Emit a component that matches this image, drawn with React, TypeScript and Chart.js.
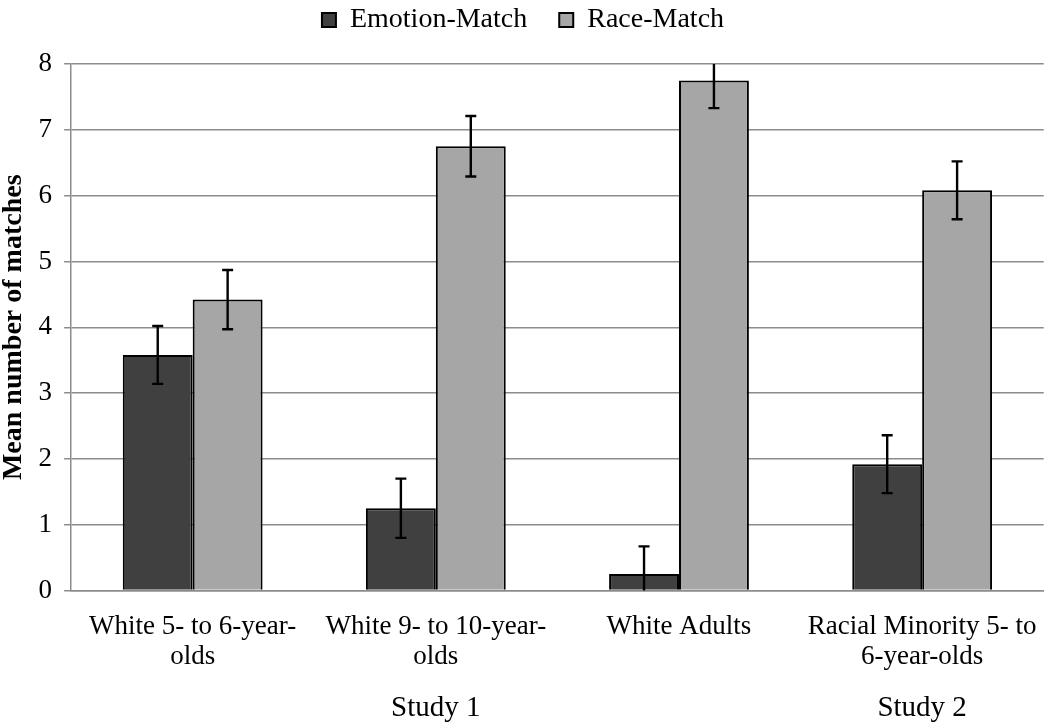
import React, { useEffect, useRef } from "react";
import { Chart, registerables } from "chart.js";

Chart.register(...registerables);

const categories: string[][] = [
  ["White 5- to 6-year-", "olds"],
  ["White 9- to 10-year-", "olds"],
  ["White Adults"],
  ["Racial Minority 5- to", "6-year-olds"],
];
const emotionMatch = [3.58, 1.25, 0.25, 1.92];
const emotionErr = [0.44, 0.45, 0.42, 0.44];
const raceMatch = [4.42, 6.75, 7.75, 6.08];
const raceErr = [0.45, 0.46, 0.42, 0.44];
const studyLabels = ["Study 1", "Study 2"];
const studySpans = [[0, 2], [3, 3]];

const FONT = "'Liberation Serif', 'Times New Roman', serif";

const errorBarPlugin = {
  id: "errorBars",
  afterDatasetsDraw(chart: any) {
    const { ctx, chartArea, scales } = chart;
    const y = scales.y;
    ctx.save();
    ctx.beginPath();
    ctx.rect(chartArea.left, chartArea.top, chartArea.right - chartArea.left, chartArea.bottom - chartArea.top);
    ctx.clip();
    ctx.strokeStyle = "#000";
    ctx.lineWidth = 2.4;
    chart.data.datasets.forEach((ds: any, di: number) => {
      const meta = chart.getDatasetMeta(di);
      const errs: number[] = ds.errors;
      meta.data.forEach((bar: any, i: number) => {
        const v = ds.data[i];
        const top = y.getPixelForValue(v + errs[i]);
        const bot = y.getPixelForValue(v - errs[i]);
        const x = bar.x;
        const cap = 5.5;
        ctx.beginPath();
        ctx.moveTo(x, top);
        ctx.lineTo(x, bot);
        ctx.moveTo(x - cap, top);
        ctx.lineTo(x + cap, top);
        ctx.moveTo(x - cap, bot);
        ctx.lineTo(x + cap, bot);
        ctx.stroke();
      });
    });
    ctx.restore();
  },
};

const legendSpacing = {
  id: "legendSpacing",
  beforeInit(chart: any) {
    const legend = chart.legend;
    if (!legend) return;
    const orig = legend.fit;
    legend.fit = function () {
      orig.bind(legend)();
      this.height += 20;
    };
  },
};

const studyPlugin = {
  id: "studyLabels",
  afterDraw(chart: any) {
    const { ctx, scales } = chart;
    const x = scales.x;
    const half = (x.getPixelForValue(1) - x.getPixelForValue(0)) / 2;
    ctx.save();
    ctx.fillStyle = "#000";
    ctx.font = `29px ${FONT}`;
    ctx.textAlign = "center";
    ctx.textBaseline = "middle";
    studyLabels.forEach((lab, i) => {
      const [a, b] = studySpans[i];
      const cx = (x.getPixelForValue(a) - half + x.getPixelForValue(b) + half) / 2;
      ctx.fillText(lab, cx, 708);
    });
    ctx.restore();
  },
};

export default function App() {
  const ref = useRef<HTMLCanvasElement>(null);
  useEffect(() => {
    document.body.style.margin = "0";
    const chart = new Chart(ref.current!, {
      type: "bar",
      data: {
        labels: categories as any,
        datasets: [
          {
            label: "Emotion-Match",
            data: emotionMatch,
            errors: emotionErr,
            backgroundColor: "#404040",
            borderColor: "#000",
            borderWidth: 2,
          } as any,
          {
            label: "Race-Match",
            data: raceMatch,
            errors: raceErr,
            backgroundColor: "#a6a6a6",
            borderColor: "#000",
            borderWidth: 2,
          } as any,
        ],
      },
      options: {
        animation: false,
        responsive: false,
        maintainAspectRatio: false,
        layout: { padding: { left: 0, right: 4, top: -26, bottom: 38 } },
        datasets: { bar: { barPercentage: 1, categoryPercentage: 0.575 } },
        plugins: {
          legend: {
            position: "top",
            labels: {
              boxWidth: 14,
              boxHeight: 14,
              color: "#000",
              font: { family: FONT, size: 28 },
              padding: 32,
            },
          },
          tooltip: { enabled: false },
        },
        scales: {
          x: {
            grid: { display: false },
            border: { display: true, color: "#8c8c8c", width: 1.5 },
            ticks: {
              color: "#000",
              font: { family: FONT, size: 27, lineHeight: 1.12 },
              maxRotation: 0,
              autoSkip: false,
              padding: 13,
            },
          },
          y: {
            min: 0,
            max: 8,
            ticks: {
              stepSize: 1,
              color: "#000",
              font: { family: FONT, size: 27 },
              padding: 12,
            },
            grid: { color: "#8c8c8c", lineWidth: 1.5, tickLength: 7 },
            border: { display: true, color: "#8c8c8c", width: 1.5 },
            title: {
              display: true,
              text: "Mean number of matches",
              color: "#000",
              font: { family: FONT, size: 28, weight: "bold", lineHeight: 0.95 },
              padding: 0,
            },
          },
        },
      } as any,
      plugins: [legendSpacing, errorBarPlugin, studyPlugin],
    });
    return () => chart.destroy();
  }, []);
  return (
    <div style={{ width: 1050, height: 723 }}>
      <canvas ref={ref} width={1050} height={723} style={{ width: 1050, height: 723 }} />
    </div>
  );
}
